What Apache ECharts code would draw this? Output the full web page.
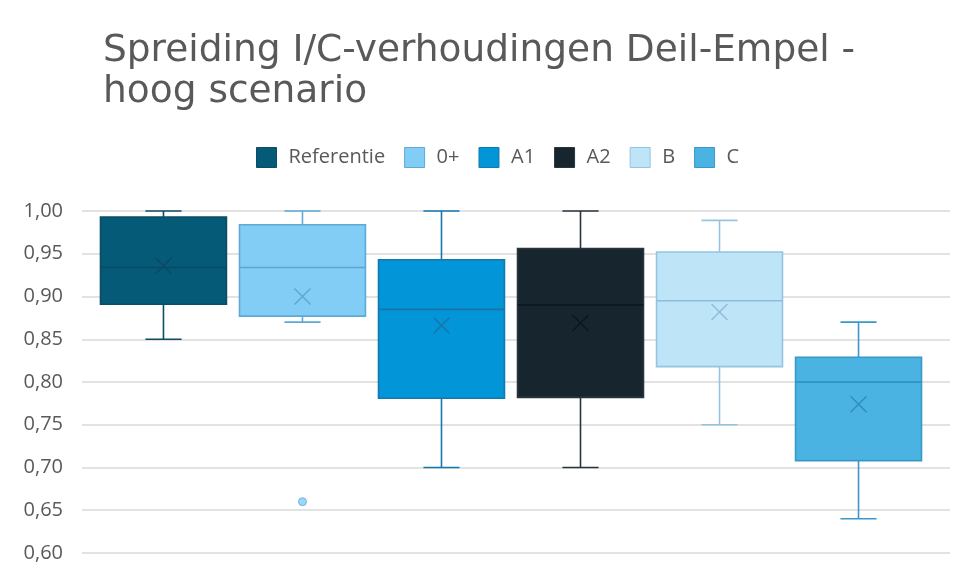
<!DOCTYPE html>
<html>
<head>
<meta charset="utf-8">
<script src="https://cdn.jsdelivr.net/npm/echarts@6/dist/echarts.min.js"></script>
<style>
html,body{margin:0;padding:0;background:#fff;}
#chart{width:957px;height:578px;}
</style>
</head>
<body>
<div id="chart"></div>
<script>
// ---- data ----
const categories = ['Referentie', '0+', 'A1', 'A2', 'B', 'C'];
const minVals    = [0.85, 0.87, 0.70, 0.70, 0.75, 0.64];
const q1Vals     = [0.891, 0.877, 0.781, 0.782, 0.818, 0.708];
const medianVals = [0.934, 0.934, 0.885, 0.890, 0.895, 0.800];
const q3Vals     = [0.993, 0.984, 0.943, 0.956, 0.952, 0.829];
const maxVals    = [1.00, 1.00, 1.00, 1.00, 0.989, 0.87];
const meanVals   = [0.936, 0.900, 0.866, 0.869, 0.882, 0.774];
const outlierCategory = ['0+'];
const outlierValues   = [0.66];
const yTicks = ['0,60','0,65','0,70','0,75','0,80','0,85','0,90','0,95','1,00'];

// ---- styles ----
const fills   = ['#055a78', '#82cdf5', '#0295d8', '#17262e', '#bee4f8', '#4bb3e2'];
const strokes = ['#0d4c64', '#5ea9d6', '#1579ae', '#2a353b', '#95c4e1', '#3a98c8'];
const marks   = ['#0b4a62', '#5ea6d2', '#1a74a6', '#0c171c', '#8dbcda', '#2e8cbf'];

function renderBox(params, api) {
  const idx = params.seriesIndex;
  const x = api.value(0);
  const band = api.size([1, 0])[0];
  const half = band * 0.453;
  const cap = band * 0.13;
  const px = v => api.coord([x, v]);
  const cx = px(api.value(3))[0];
  const yMin = px(api.value(1))[1];
  const yQ1 = px(api.value(2))[1];
  const yMed = px(api.value(3))[1];
  const yQ3 = px(api.value(4))[1];
  const yMax = px(api.value(5))[1];
  const yMean = px(api.value(6))[1];
  const ls = {stroke: strokes[idx], lineWidth: 1.6};
  const m = 8;
  return {
    type: 'group',
    children: [
      {type: 'line', shape: {x1: cx, y1: yQ3, x2: cx, y2: yMax}, style: ls},
      {type: 'line', shape: {x1: cx - cap, y1: yMax, x2: cx + cap, y2: yMax}, style: ls},
      {type: 'line', shape: {x1: cx, y1: yQ1, x2: cx, y2: yMin}, style: ls},
      {type: 'line', shape: {x1: cx - cap, y1: yMin, x2: cx + cap, y2: yMin}, style: ls},
      {type: 'rect', shape: {x: cx - half, y: yQ3, width: half * 2, height: yQ1 - yQ3},
       style: {fill: fills[idx], stroke: strokes[idx], lineWidth: 1.6}},
      {type: 'line', shape: {x1: cx - half, y1: yMed, x2: cx + half, y2: yMed},
       style: {stroke: marks[idx], lineWidth: 1.6}},
      {type: 'line', shape: {x1: cx - m, y1: yMean - m, x2: cx + m, y2: yMean + m},
       style: {stroke: marks[idx], lineWidth: 1.4}},
      {type: 'line', shape: {x1: cx - m, y1: yMean + m, x2: cx + m, y2: yMean - m},
       style: {stroke: marks[idx], lineWidth: 1.4}}
    ]
  };
}

const series = categories.map((name, i) => ({
  name: name,
  type: 'custom',
  renderItem: renderBox,
  itemStyle: {color: fills[i], borderColor: strokes[i], borderWidth: 1},
  encode: {x: 0, y: [1, 2, 3, 4, 5, 6]},
  data: [[i, minVals[i], q1Vals[i], medianVals[i], q3Vals[i], maxVals[i], meanVals[i]]],
  z: 2
}));

series.push({
  name: 'uitschieters',
  type: 'scatter',
  symbol: 'circle',
  symbolSize: 8,
  itemStyle: {color: fills[1], borderColor: strokes[1], borderWidth: 1},
  data: outlierCategory.map((c, k) => [categories.indexOf(c), outlierValues[k]]),
  z: 3
});

const chart = echarts.init(document.getElementById('chart'));
chart.setOption({
  backgroundColor: '#ffffff',
  animation: false,
  title: {
    text: 'Spreiding I/C-verhoudingen Deil-Empel -\nhoog scenario',
    left: 98,
    top: 26,
    textStyle: {fontFamily: 'DejaVu Sans', fontSize: 37.5, fontWeight: 'normal', color: '#595959', lineHeight: 41}
  },
  legend: {
    top: 142,
    left: 251,
    icon: 'rect',
    itemWidth: 20,
    itemHeight: 20,
    itemGap: 19,
    textStyle: {fontFamily: 'Open Sans', fontSize: 20, color: '#595959', padding: [0, 0, 0, 7]},
    data: categories.map((name, i) => ({name: name, itemStyle: {color: fills[i], borderColor: strokes[i], borderWidth: 1}}))
  },
  grid: {left: 82, right: 7, top: 211, bottom: 25, containLabel: false},
  xAxis: {
    type: 'value',
    min: -0.586,
    max: 5.658,
    show: false
  },
  yAxis: {
    type: 'value',
    min: 0.6,
    max: 1.0,
    interval: 0.05,
    axisLine: {show: false},
    axisTick: {show: false},
    axisLabel: {
      fontFamily: 'Open Sans',
      fontSize: 20,
      color: '#595959',
      margin: 19,
      formatter: v => yTicks[Math.round((v - 0.6) / 0.05)]
    },
    splitLine: {lineStyle: {color: '#d9d9d9', width: 1.5}}
  },
  series: series
});
</script>
</body>
</html>
